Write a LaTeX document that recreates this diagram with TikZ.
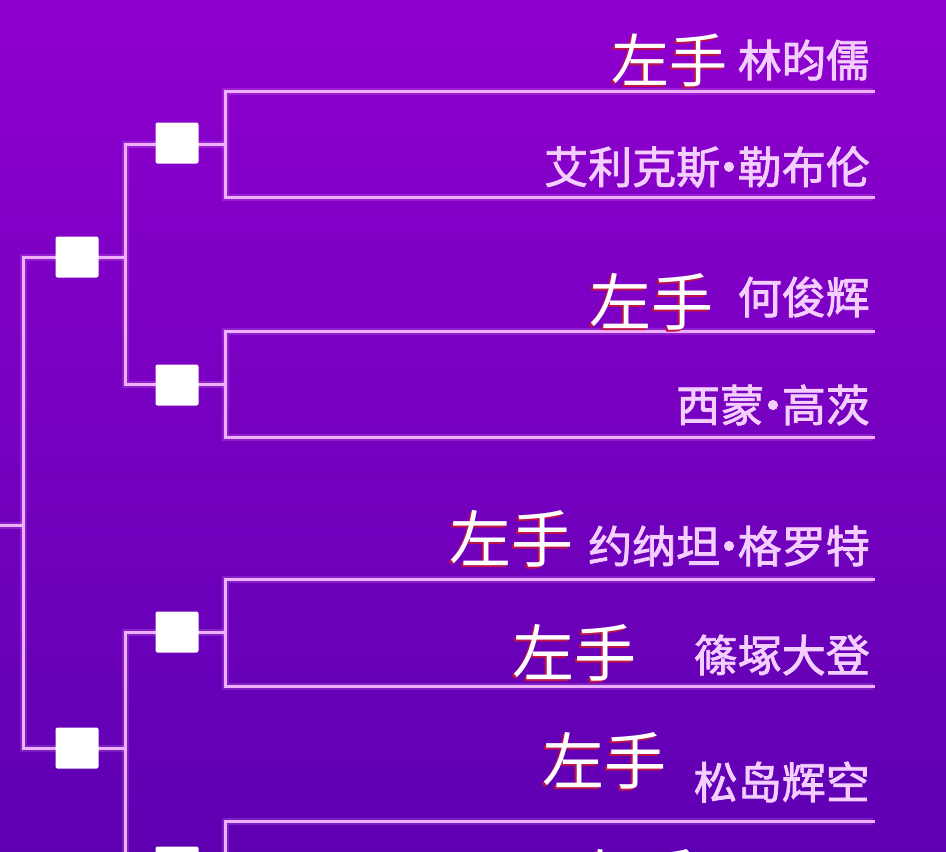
\documentclass[tikz,border=0pt]{standalone}
\usepackage{fontspec}
\newfontfamily\cjk{Noto Sans CJK SC}
\newfontfamily\cjkb{Noto Sans CJK SC}[FakeBold=1.8]
\newcommand{\ndot}{\kern-0.3em·\kern-0.3em}
\definecolor{bgtop}{RGB}{143,0,206}
\definecolor{bgbot}{RGB}{94,0,178}
\definecolor{linec}{RGB}{238,176,252}
\definecolor{namec}{RGB}{244,206,255}
\definecolor{shadc}{RGB}{190,20,70}
\tikzset{
  ln/.style={draw=linec, line width=3pt, line cap=rect,
    preaction={draw=linec, line width=7pt, opacity=0.18}},
  sq/.style={fill=white, minimum width=43pt, minimum height=41pt, inner sep=0, rounded corners=2pt},
  nm/.style={font={\cjkb\fontsize{44}{44}\selectfont}, text=namec, anchor=east, inner sep=0},
  lh/.style={font={\cjk\fontsize{62}{62}\selectfont}, text=white, anchor=east, inner sep=0},
  lhs/.style={font={\cjk\fontsize{62}{62}\selectfont}, text=shadc, anchor=east, inner sep=0}
}
\begin{document}
\begin{tikzpicture}[x=1pt,y=-1pt]
\useasboundingbox (0,0) rectangle (946,852);
\clip (0,0) rectangle (946,852);
\shade[top color=bgtop, bottom color=bgbot] (0,0) rectangle (946,852);
% coordinates
\coordinate (r1a) at (873,91);  \coordinate (r1b) at (873,197);
\coordinate (r2a) at (873,331); \coordinate (r2b) at (873,437);
\coordinate (r3a) at (873,579); \coordinate (r3b) at (873,686);
\coordinate (r4a) at (873,821); \coordinate (r4b) at (873,913);
\coordinate (j1) at (225,144); \coordinate (j2) at (225,384);
\coordinate (j3) at (225,632); \coordinate (j4) at (225,867);
\coordinate (q1) at (125,144); \coordinate (q12) at (125,257);
\coordinate (q3) at (125,632); \coordinate (q34) at (125,748);
\coordinate (pa) at (23,257);  \coordinate (pb) at (23,748);
\coordinate (s0) at (0,525);   \coordinate (s1) at (23,525);
\coordinate (c1) at (177,143); \coordinate (c2) at (177,385);
\coordinate (c3) at (177,632); \coordinate (c4) at (177,867);
\coordinate (c12) at (77,257); \coordinate (c34) at (77,748);
% bracket lines
\draw[ln] (r1a) -| (j1) |- (r1b);
\draw[ln] (r2a) -| (j2) |- (r2b);
\draw[ln] (r3a) -| (j3) |- (r3b);
\draw[ln] (r4a) -| (j4) |- (r4b);
\draw[ln] (j1) -- (q1) |- (j2);
\draw[ln] (j3) -- (q3) |- (j4);
\draw[ln] (q12) -- (pa) |- (q34);
\draw[ln] (s0) -- (s1);
% boxes
\node[sq] (b1) at (c1) {};
\node[sq] (b2) at (c2) {};
\node[sq] (b3) at (c3) {};
\node[sq] (b4) at (c4) {};
\node[sq] (b12) at (c12) {};
\node[sq] (b34) at (c34) {};
% names
\node[nm] (n1) at (870,60) {林昀儒};
\node[nm] (n2) at (870,167) {艾利克斯\ndot 勒布伦};
\node[nm] (n3) at (870,297) {何俊辉};
\node[nm] (n4) at (870,405) {西蒙\ndot 高茨};
\node[nm] (n5) at (870,546) {约纳坦\ndot 格罗特};
\node[nm] (n6) at (870,655) {篠塚大登};
\node[nm] (n7) at (870,782) {松岛辉空};
% left-hand labels
\node[lhs, font={\cjk\fontsize{58}{58}\selectfont}] at (725.5,62) {左手};
\node[lh, font={\cjk\fontsize{58}{58}\selectfont}] (l1) at (727.5,60) {左手};
\node[lhs] at (712,304) {左手};
\node[lh] (l2) at (714,302) {左手};
\node[lhs] at (572,541) {左手};
\node[lh] (l3) at (574,539) {左手};
\node[lhs] at (635,655) {左手};
\node[lh] (l4) at (637,653) {左手};
\node[lhs] at (665,763) {左手};
\node[lh] (l5) at (667,761) {左手};
\node[lhs] at (698,880) {左手};
\node[lh] (l6) at (700,878) {左手};
\end{tikzpicture}
\end{document}
